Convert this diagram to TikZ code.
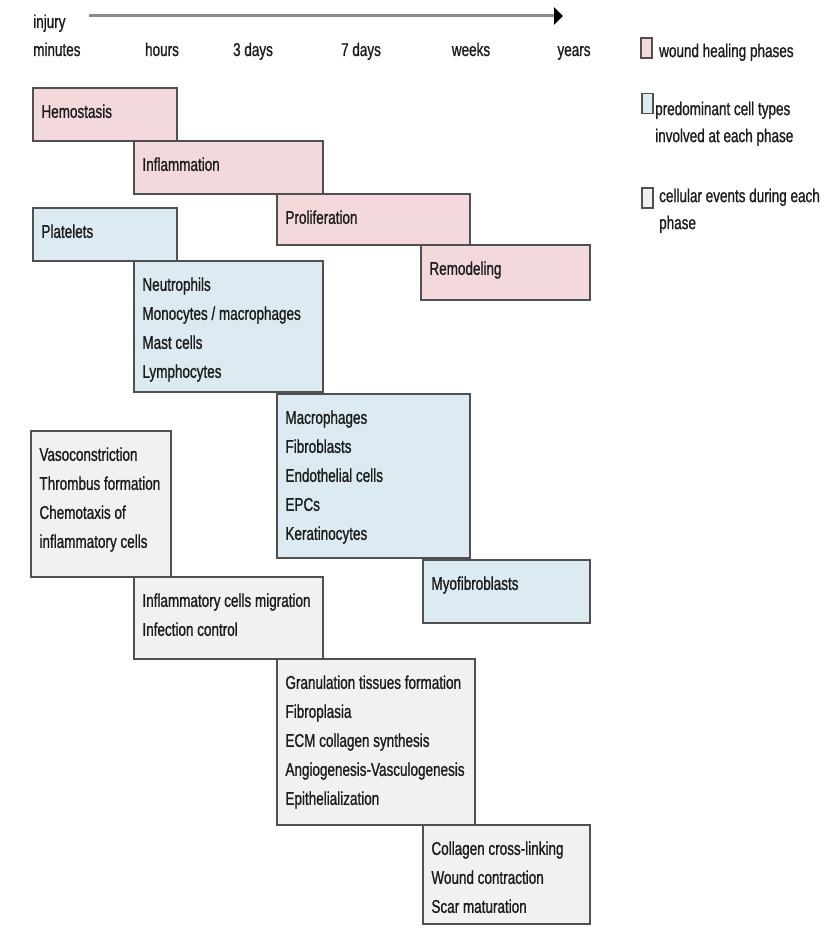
\documentclass[tikz,border=0pt]{standalone}
\usepackage{fontspec}
\setmainfont{Liberation Sans}[FakeStretch=0.73, FakeBold=1]
\usetikzlibrary{arrows.meta,fit}
\definecolor{phasepink}{RGB}{243,217,220}
\definecolor{cellblue}{RGB}{219,235,241}
\definecolor{eventgray}{RGB}{241,241,241}
\definecolor{edgegray}{RGB}{80,80,80}
\definecolor{axisgray}{RGB}{140,140,140}
\definecolor{inkgray}{RGB}{28,28,28}
\tikzset{%
    box/.style={rectangle, draw=edgegray, line width=1.5pt, inner sep=0pt},
    phasebox/.style={box, fill=phasepink},
    cellbox/.style={box, fill=cellblue},
    eventbox/.style={box, fill=eventgray},
    txt/.style={anchor=north west, inner sep=0pt, align=left, text=inkgray,
        font=\fontsize{18.5}{29}\selectfont, xshift=9pt, yshift=-17pt},
    timelbl/.style={anchor=base, inner sep=0pt, text=inkgray,
        font=\fontsize{18.5}{29}\selectfont},
    keybox/.style={rectangle, draw=edgegray, line width=1.2pt,
        minimum width=11pt, minimum height=20pt, inner sep=0pt},
    keytxt/.style={anchor=north west, inner sep=0pt, align=left, text=inkgray,
        font=\fontsize{18.5}{27}\selectfont}
}

\begin{document}
\begin{tikzpicture}[x=1pt, y=-1pt]
  \useasboundingbox (0,0) rectangle (828,928);

  % time axis
  \coordinate (ax0) at (89,16);
  \coordinate (ax1) at (563,16);
  \draw[line width=3pt, axisgray, -{Triangle[length=9pt, width=17pt, color=black]}] (ax0) -- (ax1);
  \node (inj) [timelbl, anchor=base west] at (33,28) {injury};
  \node (tmin) [timelbl, anchor=base west] at (33,56) {minutes};
  \node (thr) [timelbl] at (162,56) {hours};
  \node (t3d) [timelbl] at (253,56) {3 days};
  \node (t7d) [timelbl] at (361,56) {7 days};
  \node (twk) [timelbl] at (471,56) {weeks};
  \node (tyr) [timelbl] at (574,56) {years};

  % phases
  \node (hemo) [phasebox, fit={(33,88) (177,141)}] {};
  \node (infl) [phasebox, fit={(134,141) (323,194)}] {};
  \node (prol) [phasebox, fit={(277,194) (470,245)}] {};
  \node (remo) [phasebox, fit={(421,245) (590,300)}] {};

  % cell types
  \node (plat) [cellbox, fit={(33,208) (177,261)}] {};
  \node (neut) [cellbox, fit={(134,261) (323,392)}] {};
  \node (macr) [cellbox, fit={(277,394) (470,558)}] {};
  \node (myof) [cellbox, fit={(423,560) (590,623)}] {};

  % cellular events
  \node (vaso) [eventbox, fit={(31,431) (171,577)}] {};
  \node (migr) [eventbox, fit={(134,577) (323,659)}] {};
  \node (gran) [eventbox, fit={(277,659) (475,825)}] {};
  \node (coll) [eventbox, fit={(423,825) (590,924)}] {};

  \node (hemotx) [txt] at (hemo.north west) {Hemostasis};
  \node (infltx) [txt] at (infl.north west) {Inflammation};
  \node (proltx) [txt] at (prol.north west) {Proliferation};
  \node (remotx) [txt] at (remo.north west) {Remodeling};
  \node (plattx) [txt] at (plat.north west) {Platelets};
  \node (neuttx) [txt] at (neut.north west)
    {Neutrophils\\Monocytes / macrophages\\Mast cells\\Lymphocytes};
  \node (macrtx) [txt] at (macr.north west)
    {Macrophages\\Fibroblasts\\Endothelial cells\\EPCs\\Keratinocytes};
  \node (myoftx) [txt] at (myof.north west) {Myofibroblasts};
  \node (vasotx) [txt] at (vaso.north west)
    {Vasoconstriction\\Thrombus formation\\Chemotaxis of\\inflammatory cells};
  \node (migrtx) [txt] at (migr.north west)
    {Inflammatory cells migration\\Infection control};
  \node (grantx) [txt] at (gran.north west)
    {Granulation tissues formation\\Fibroplasia\\ECM collagen synthesis\\Angiogenesis-Vasculogenesis\\Epithelialization};
  \node (colltx) [txt] at (coll.north west)
    {Collagen cross-linking\\Wound contraction\\Scar maturation};

  % legend
  \node (k1) [keybox, fill=phasepink] at (646.5,48) {};
  \node (k2) [keybox, fill=cellblue] at (647.5,103.5) {};
  \node (k3) [keybox, fill=eventgray] at (647.5,198) {};
  \node (k1tx) [keytxt] at (659,43.5) {wound healing phases};
  \node (k2tx) [keytxt] at (655,101.5) {predominant cell types\\involved at each phase};
  \node (k3tx) [keytxt] at (659,188.5) {cellular events during each\\phase};
\end{tikzpicture}
\end{document}
